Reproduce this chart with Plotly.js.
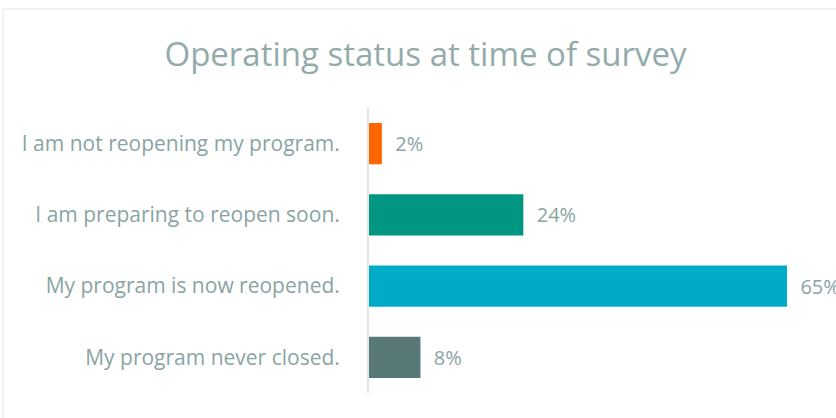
<!DOCTYPE html>
<html>
<head>
<meta charset="utf-8">
<script src="https://cdn.plot.ly/plotly-3.0.1.min.js"></script>
<style>
  body { margin: 0; background: #fff; }
  #status-chart { width: 836px; height: 418px; }
</style>
</head>
<body>
<div id="status-chart"></div>
<script>
// survey answers, top to bottom as shown
var answers = [
    "I am not reopening my program.",
    "I am preparing to reopen soon.",
    "My program is now reopened.",
    "My program never closed."
];
var shares = [2, 24, 65, 8];
var shareLabels = ["2%", "24%", "65%", "8%"];
var barColors = ["#ff6600", "#009681", "#00abc8", "#597978"];

var textGrey = "#8aa4a4";
var fontFam = "'Open Sans', Lato, sans-serif";

// plot area sizes (px) so the border shape can sit outside it
var W = 836, H = 418;
var m = { l: 369, r: 4, t: 108, b: 25 };
var plotW = W - m.l - m.r;
var plotH = H - m.t - m.b;

var trace = {
    type: "bar",
    orientation: "h",
    x: shares,
    y: answers,
    text: shareLabels,
    // two nbsp push the value away from the bar end
    texttemplate: "\u00a0\u00a0%{text}",
    textposition: "outside",
    constraintext: "none",
    cliponaxis: false,
    textfont: { family: fontFam, size: 20, color: textGrey },
    marker: { color: barColors },
    hoverinfo: "none"
};

var layout = {
    width: W,
    height: H,
    margin: m,
    paper_bgcolor: "#fff",
    plot_bgcolor: "#fff",
    showlegend: false,
    bargap: 0.42,
    title: {
        text: "Operating status at time of survey",
        font: { family: fontFam, size: 33, color: "#93abab" },
        x: 0.509,
        xanchor: "center",
        y: 0.87,
        yanchor: "middle"
    },
    xaxis: {
        range: [0, 72],
        showgrid: false,
        zeroline: false,
        showticklabels: false,
        showline: false,
        fixedrange: true
    },
    yaxis: {
        autorange: "reversed",
        showgrid: false,
        zeroline: false,
        showline: true,
        linecolor: "#e1e7e7",
        linewidth: 2,
        ticks: "",
        ticklabelstandoff: 23,
        tickfont: { family: fontFam, size: 21, color: textGrey },
        fixedrange: true
    },
    shapes: [{
        // light frame round the chart, it runs off the right and bottom
        type: "rect",
        xref: "paper",
        yref: "paper",
        x0: (3 - m.l) / plotW,
        x1: (W + 5 - m.l) / plotW,
        y0: -(m.b + 5) / plotH,
        y1: 1 + (m.t - 9) / plotH,
        line: { color: "#dfe5e5", width: 1 },
        layer: "below"
    }]
};

Plotly.newPlot("status-chart", [trace], layout, { displayModeBar: false, staticPlot: true });
</script>
</body>
</html>
